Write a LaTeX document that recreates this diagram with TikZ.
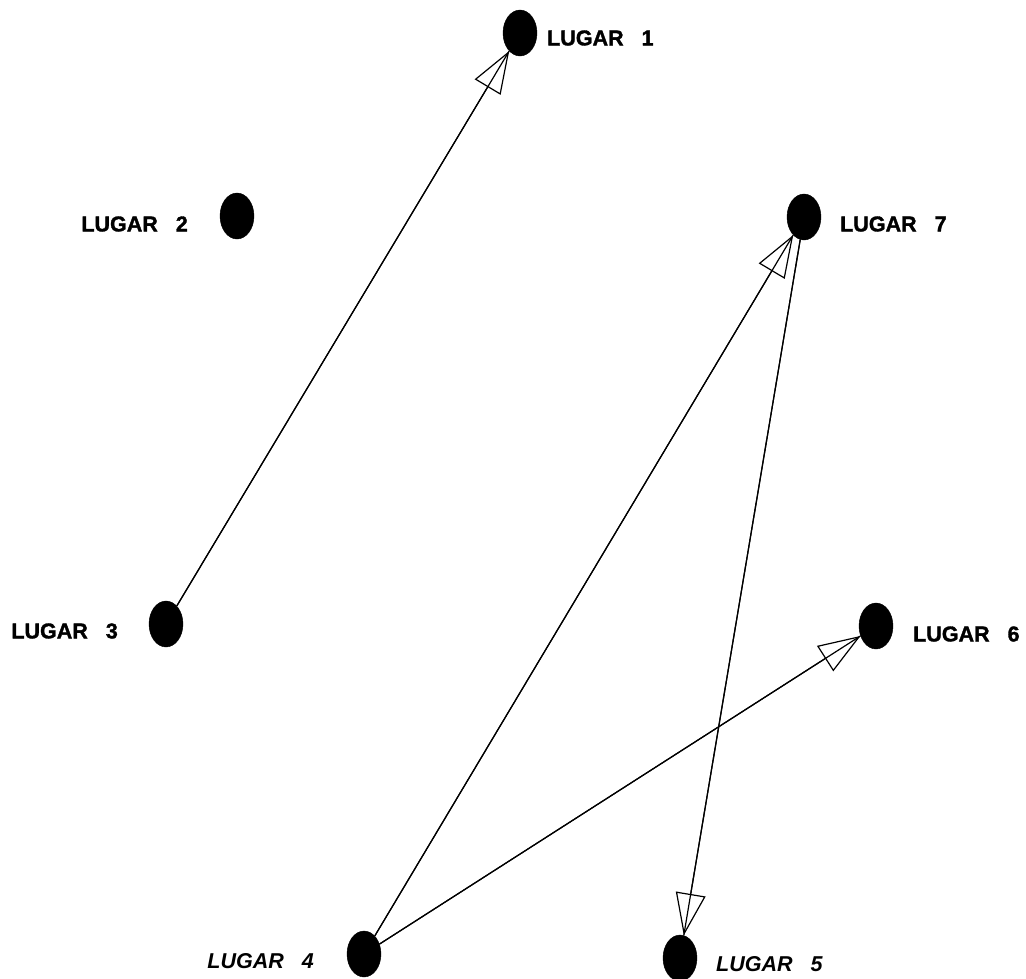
\documentclass[tikz,border=0pt]{standalone}
\usepackage{fontspec}
\setmainfont[BoldFeatures={FakeBold=1.5}]{Liberation Sans}
\usetikzlibrary{shapes.geometric,arrows.meta}
\newcommand{\lug}[1]{LUGAR\hspace{18pt}#1}
\begin{document}
\begin{tikzpicture}[x=1pt,y=-1pt,
  place/.style={ellipse,fill=black,draw=black,inner sep=0pt,minimum width=34pt,minimum height=46pt},
  lbl/.style={font=\fontsize{21.5}{21.5}\selectfont\bfseries,inner sep=0pt},
  lbli/.style={lbl,font=\fontsize{21.5}{21.5}\selectfont\bfseries\itshape},
  conn/.style={line width=1.2pt,black},
  head/.style={line width=1.2pt,-{Triangle[open,length=42pt,width=30pt,line width=1.2pt]}}
]
\useasboundingbox (0,0) rectangle (1026,978);
\node[place] (p1) at (520,33) {};
\node[place] (p2) at (237,216) {};
\node[place] (p7) at (804,217) {};
\node[place] (p3) at (166,624) {};
\node[place] (p6) at (876,626) {};
\node[place] (p4) at (364,954) {};
\node[place] (p5) at (680,958) {};

\node[lbl,anchor=west] (l1) at (547,38) {\lug{1}};
\node[lbl,anchor=east] (l2) at (188,224) {\lug{2}};
\node[lbl,anchor=west] (l7) at (840,224) {\lug{7}};
\node[lbl,anchor=east] (l3) at (118,631) {\lug{3}};
\node[lbl,anchor=west] (l6) at (913,634) {\lug{6}};
\node[lbli,anchor=east] (l4) at (314,961) {\lug{4}};
\node[lbli,anchor=west] (l5) at (716,964) {\lug{5}};

\draw[head] (p3) -- (p1);
\draw[conn] (p3) -- (p1);
\draw[head] (p4) -- (p7);
\draw[conn] (p4) -- (p7);
\draw[head] (p7) -- (p5);
\draw[conn] (p7) -- (p5);
\draw[head] (p4) -- (p6);
\draw[conn] (p4) -- (p6);
\end{tikzpicture}
\end{document}
